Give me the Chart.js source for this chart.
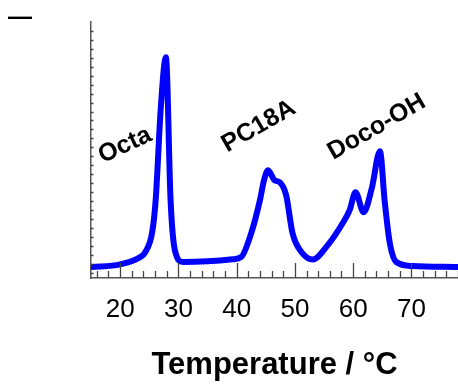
<!DOCTYPE html>
<html>
<head>
<meta charset="utf-8">
<script src="https://cdn.jsdelivr.net/npm/chart.js@4"></script>
<style>
  html, body { margin: 0; padding: 0; background: #fff; }
  #wrap { width: 458px; height: 384px; position: relative; }
</style>
</head>
<body>
<div id="wrap"><canvas id="dsc" width="458" height="384"></canvas></div>
<script>
// DSC trace (temperature in °C, heat flow in arbitrary units)
const temperature = [15.0, 20.0, 23.4, 24.3, 25.5, 26.1, 27.0, 27.86, 28.66, 29.4, 30.8, 35.0, 39.3,
    40.8, 42.5, 44.0, 44.7, 45.4, 46.5, 47.4, 48.5, 49.6, 51.3, 53.1, 55.4, 58.2, 59.4, 60.4,
    61.8, 63.2, 64.6, 65.4, 66.3, 67.4, 70.2, 78.0];
const heatFlow = [0.63, 0.93, 1.72, 2.27, 4.51, 8.09, 18.6, 24.06, 8.09, 2.50, 1.19, 1.27, 1.49,
    1.75, 4.40, 8.09, 10.32, 11.44, 10.32, 10.10, 8.64, 4.40, 2.16, 1.46, 2.87, 5.52, 6.97, 8.98,
    6.74, 9.43, 13.56, 8.09, 3.28, 1.19, 0.74, 0.63];

const xTickLabels = [20, 30, 40, 50, 60, 70];
const xMinorStep = 2;
const yMinorTicks = Array.from({ length: 28 }, (_, i) => i);

const peakNames = ['Octa', 'PC18A', 'Doco-OH'];
const peakLabelT = [20.84, 43.79, 64.05];
const peakLabelY = [14.23, 16.35, 16.27];
const peakLabelAngle = [-25, -30, -30];

const FONT = '"Liberation Sans", Arial, Helvetica, sans-serif';

// inward ticks on both axes plus the rotated peak names
const decorations = {
    id: 'decorations',
    afterDraw(chart) {
        const ctx = chart.ctx;
        const xs = chart.scales.x;
        const ys = chart.scales.y;
        const area = chart.chartArea;
        ctx.save();
        ctx.strokeStyle = '#444';
        ctx.lineWidth = 1.3;
        ctx.beginPath();
        for (let t = 16; t <= 78; t += xMinorStep) {
            const px = Math.round(xs.getPixelForValue(t)) + 0.5;
            const len = t % 10 === 0 ? 15 : 7;
            ctx.moveTo(px, area.bottom);
            ctx.lineTo(px, area.bottom - len);
        }
        for (const v of yMinorTicks) {
            const py = Math.round(ys.getPixelForValue(v)) + 0.5;
            ctx.moveTo(area.left, py);
            ctx.lineTo(area.left + 2.5, py);
        }
        ctx.stroke();

        ctx.fillStyle = '#000';
        ctx.font = 'bold 25px ' + FONT;
        ctx.textAlign = 'center';
        ctx.textBaseline = 'middle';
        peakNames.forEach((name, i) => {
            ctx.save();
            ctx.translate(xs.getPixelForValue(peakLabelT[i]), ys.getPixelForValue(peakLabelY[i]));
            ctx.rotate(peakLabelAngle[i] * Math.PI / 180);
            ctx.fillText(name, 0, 0);
            ctx.restore();
        });

        ctx.font = 'bold 24px ' + FONT;
        ctx.textAlign = 'left';
        ctx.fillText('\u2014', 8, 17);
        ctx.restore();
    }
};

new Chart(document.getElementById('dsc').getContext('2d'), {
    type: 'line',
    data: {
        datasets: [{
            data: temperature.map((t, i) => ({ x: t, y: heatFlow[i] })),
            borderColor: '#0000ff',
            borderWidth: 6,
            pointRadius: 0,
            cubicInterpolationMode: 'monotone',
            borderCapStyle: 'round',
            borderJoinStyle: 'round',
            fill: false
        }]
    },
    options: {
        responsive: false,
        devicePixelRatio: 1,
        animation: false,
        layout: { padding: { top: 22, left: 0, right: 0, bottom: 0 } },
        plugins: { legend: { display: false }, tooltip: { enabled: false } },
        scales: {
            x: {
                type: 'linear',
                min: 15,
                max: 78,
                afterFit(scale) { scale.height = 106; },
                afterBuildTicks(scale) { scale.ticks = xTickLabels.map(v => ({ value: v })); },
                grid: { display: false, drawTicks: false },
                border: { display: true, color: '#555', width: 1.5 },
                ticks: {
                    color: '#000',
                    padding: 16,
                    font: { family: FONT, size: 26 }
                },
                title: {
                    display: true,
                    text: 'Temperature / °C',
                    color: '#000',
                    align: 'center',
                    padding: { top: 0, bottom: 0 },
                    font: { family: FONT, size: 31, weight: 'bold' }
                }
            },
            y: {
                min: -0.6,
                max: 28,
                afterFit(scale) { scale.width = 91; },
                grid: { display: false, drawTicks: false },
                border: { display: true, color: '#555', width: 1.5 },
                ticks: { display: false }
            }
        }
    },
    plugins: [decorations]
});
</script>
</body>
</html>
